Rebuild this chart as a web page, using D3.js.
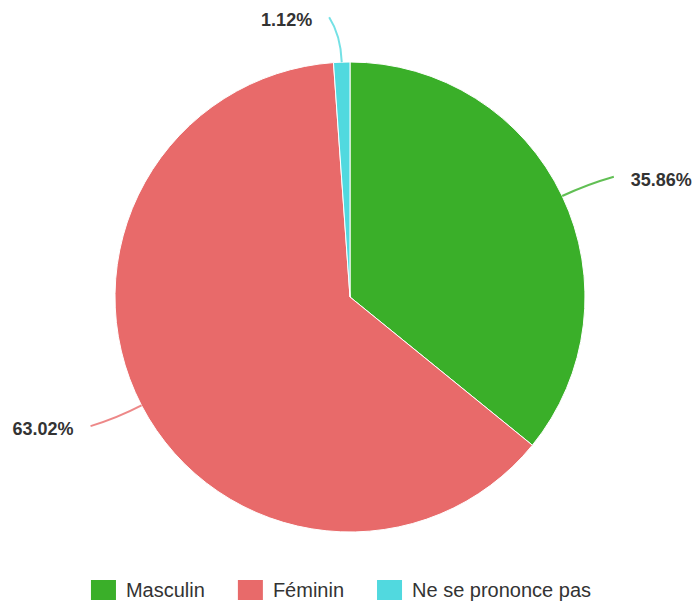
<!DOCTYPE html>
<meta charset="utf-8">
<script src="https://d3js.org/d3.v7.min.js"></script>
<style>
  body { margin: 0; background: #fff; }
  text { font-family: "Liberation Sans", Arial, sans-serif; }
</style>
<svg id="chart" width="694" height="605"></svg>
<script>
  // Data
  var categories = ["Masculin", "Féminin", "Ne se prononce pas"];
  var values = [35.86, 63.02, 1.12];
  var colors = ["#3aaf29", "#e86a6a", "#51d9df"];

  var svg = d3.select("#chart"),
    width = +svg.attr("width"),
    height = +svg.attr("height");

  var cx = 350, cy = 297, radius = 235;

  var data = categories.map(function(c, i) { return { name: c, value: values[i], color: colors[i] }; });

  var pie = d3.pie().sort(null).value(function(d) { return d.value; });
  var arc = d3.arc().innerRadius(0).outerRadius(radius);

  var g = svg.append("g").attr("transform", "translate(" + cx + "," + cy + ")");
  var arcs = pie(data);

  // slices
  g.selectAll("path.slice")
    .data(arcs)
    .enter()
    .append("path")
      .attr("class", "slice")
      .attr("d", arc)
      .attr("fill", function(d) { return d.data.color; })
      .attr("stroke", "#fff")
      .attr("stroke-width", 1);

  // leader lines + labels
  function pt(a, r) { return [Math.sin(a) * r, -Math.cos(a) * r]; }

  arcs.forEach(function(d) {
    var a = (d.startAngle + d.endAngle) / 2;
    var side = Math.sin(a) >= 0 ? 1 : -1;
    var p0 = pt(a, radius), p1 = pt(a, 262), o = pt(a, 280);
    var e = [o[0] + side * 11, o[1]];
    g.append("path")
      .attr("d", "M" + p0 + "Q" + p1 + " " + e)
      .attr("fill", "none")
      .attr("stroke", d.data.color)
      .attr("stroke-opacity", 0.8)
      .attr("stroke-width", 2);
    g.append("text")
      .attr("x", e[0] + side * 17)
      .attr("y", e[1] + 3)
      .attr("dy", "0.35em")
      .attr("text-anchor", side > 0 ? "start" : "end")
      .attr("font-size", 18)
      .attr("font-weight", "bold")
      .attr("fill", "#333")
      .text(d.data.value.toFixed(2) + "%");
  });

  // legend
  var legend = svg.append("g");
  var x = 0;
  data.forEach(function(d) {
    var item = legend.append("g").attr("transform", "translate(" + x + ",0)");
    item.append("rect")
      .attr("width", 25).attr("height", 20)
      .attr("fill", d.color);
    var t = item.append("text")
      .attr("x", 35).attr("y", 10)
      .attr("dy", "0.35em")
      .attr("font-size", 20)
      .attr("fill", "#333")
      .text(d.name);
    x += 35 + t.node().getComputedTextLength() + 33;
  });
  var lw = x - 33;
  legend.attr("transform", "translate(" + (341 - lw / 2) + ",580)");
</script>
